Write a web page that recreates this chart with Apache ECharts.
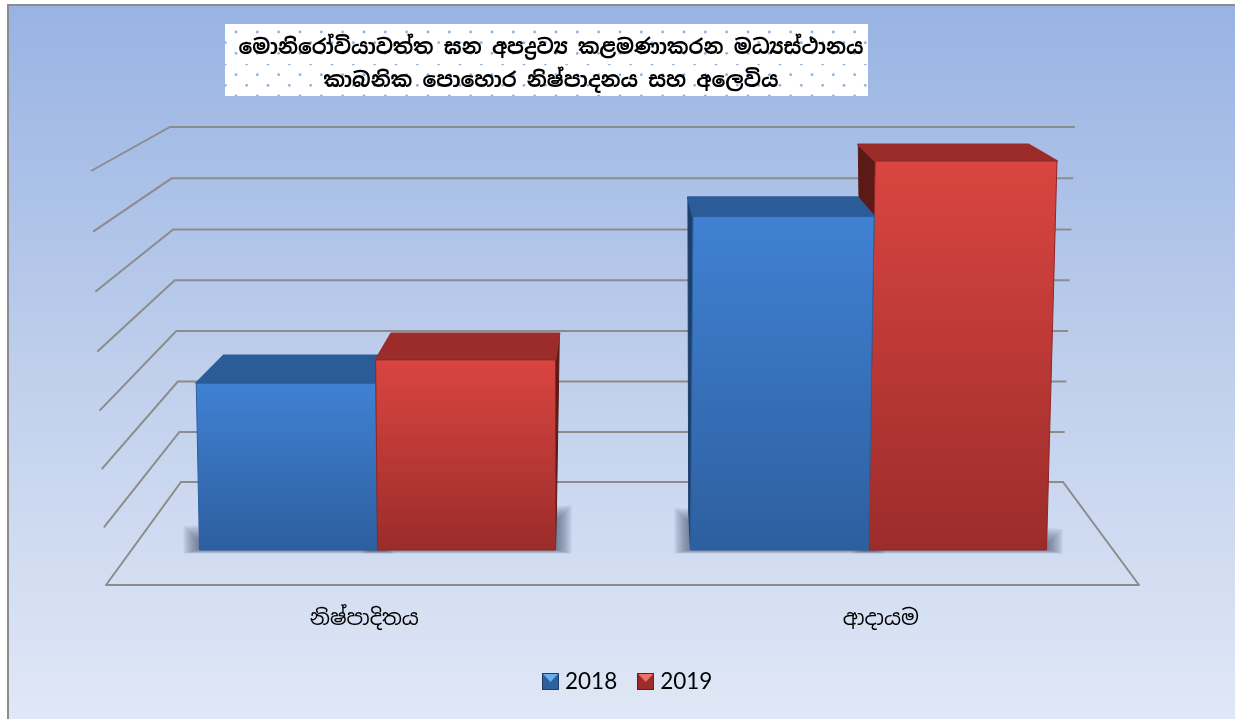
<!DOCTYPE html>
<html><head><meta charset="utf-8">
<style>html,body{margin:0;padding:0;background:#fff}#c{width:1235px;height:719px}</style>
<script src="https://cdn.jsdelivr.net/npm/echarts@6/dist/echarts.min.js"></script>
</head><body><div id="c"></div>
<script>
const titleLines = ['මොනිරෝවියාවත්ත ඝන අපද්‍රව්‍ය කළමණාකරන මධ්‍යස්ථානය', 'කාබනික පොහොර නිෂ්පාදනය සහ අලෙවිය'];
const categories = ['නිෂ්පාදිතය', 'ආදායම'];
const years = ['2018', '2019'];
const values2018 = [3.0, 6.0];
const values2019 = [3.42, 7.0];
const wallLevels = [0, 1, 2, 3, 4, 5, 6, 7];

const FONT = '"Noto Sans Sinhala","Noto Serif Sinhala","Iskoola Pota","Noto Sans","DejaVu Sans",sans-serif';
const VX = 600; // horizontal vanishing position of the 3D view
const palette = {
  '2018': {front: ['#4081d3', '#2d5f9f'], top: '#2b5c98', side: '#1d3f6b', edge: '#2c5f9f', legend: ['#2e5f9e', '#65b0f2']},
  '2019': {front: ['#da4541', '#9b2c2a'], top: '#9b2c2a', side: '#5c1a17', edge: '#8f2725', legend: ['#9b2c2a', '#f2706c']}
};

function legendIcon(c) {
  const cv = document.createElement('canvas'); cv.width = 17; cv.height = 17;
  const g = cv.getContext('2d');
  g.fillStyle = c[0]; g.fillRect(0, 0, 17, 17);
  g.fillStyle = c[1]; g.beginPath(); g.moveTo(1, 1); g.lineTo(16, 1); g.lineTo(8.5, 9); g.closePath(); g.fill();
  g.strokeStyle = 'rgba(0,0,0,.35)'; g.strokeRect(.5, .5, 16, 16);
  return 'image://' + cv.toDataURL();
}
function dotPattern() {
  const cv = document.createElement('canvas'); cv.width = 64; cv.height = 64;
  const g = cv.getContext('2d');
  g.fillStyle = '#fff'; g.fillRect(0, 0, 64, 64);
  g.fillStyle = '#8fb0e2';
  for (let i = 0; i < 3; i++) for (let j = 0; j < 3; j++) for (const [a, b] of [[44, 32], [33.3, 42.7]]) {
    g.beginPath(); g.arc((a + i * 21.33) % 64, (b + j * 21.33) % 64, 1.4, 0, 7); g.fill();
  }
  return cv;
}

function renderWall(params, api) {
  const v = api.value(0);
  const yl = api.coord([0, v])[1];
  const yf = yl + v * (7 - v) * 0.25;
  const yb = 482 - (585 - yl) * 0.8575 + v * (7 - v) * 0.1;
  const pts = [[106 - 2.14 * v, yf], [181 - 1.57 * v, yb], [1063 + 1.7 * v, yb]];
  if (v === 0) pts.push([1139, 585]);
  return {type: 'polyline', shape: {points: pts}, style: {fill: null, stroke: '#8c8c8c', lineWidth: 2}, silent: true};
}
function back(p) { return [p[0] + (615 - p[0]) * 0.065, p[1] - (p[1] + 170) * 0.05]; }
function makeRender(year, barIndex) {
  const pal = palette[year];
  return function (params, api) {
    const c = api.coord([api.value(0), 0]);
    const t = api.coord([api.value(0), api.value(1)]);
    const w = api.size([1, 0])[0] * 0.3625;
    const xl = c[0] + (barIndex - 1) * w, xr = xl + w, y0 = c[1], y1 = t[1], h = y0 - y1;
    const sh = x => (x - 556) * 5.5e-5 * h;
    const fl = [xl + sh(xl), y1], fr = [xr + sh(xr), y1], bl = [xl, y0], br = [xr, y0];
    const z = -Math.abs((xl + xr) / 2 - VX);
    const tl = back(fl), tr = back(fr);
    const children = [];
    const sTop = x => 503 + 0.058 * Math.abs(x - VX);
    for (let i = 0; i < 8; i++) {
      const e = i * 2;
      children.push({type: 'polygon', z2: -5000 + i,
        shape: {points: [[xl - 2 - e, sTop(xl) + 14 - e], [xr + 2 + e, sTop(xr) + 14 - e], [xr + 2 + e, y0 + e * 0.25], [xl - 2 - e, y0 + e * 0.25]]},
        style: {fill: 'rgba(60,70,95,.1)'}});
    }
    const sideFront = xl > VX ? [fl, bl] : [fr, br];
    const sideBack = xl > VX ? [tl, [xl + (VX - xl) * 0.02, y0 - 38]] : [tr, [xr + (VX - xr) * 0.02, y0 - 38]];
    children.push({type: 'polygon', z2: z, shape: {points: [sideFront[0], sideBack[0], sideBack[1], sideFront[1]]},
      style: {fill: pal.side, stroke: pal.side, lineWidth: 1, lineJoin: 'round'}});
    children.push({type: 'polygon', z2: z + 0.1, shape: {points: [fl, fr, tr, tl]},
      style: {fill: pal.top, stroke: pal.top, lineWidth: 2, lineJoin: 'round'}});
    children.push({type: 'polygon', z2: z + 0.2, shape: {points: [fl, fr, br, bl]},
      style: {fill: {type: 'linear', x: 0, y: 0, x2: 0, y2: 1,
        colorStops: [{offset: 0, color: pal.front[0]}, {offset: 1, color: pal.front[1]}]},
        stroke: pal.edge, lineWidth: 1}});
    return {type: 'group', children};
  };
}

const chart = echarts.init(document.getElementById('c'), null, {renderer: 'canvas'});
const hiddenY = i => ({type: 'value', gridIndex: i, min: 0, max: 7, interval: 1, show: false});
chart.setOption({
  animation: false,
  backgroundColor: '#fff',
  textStyle: {fontFamily: FONT},
  title: {
    text: titleLines.join('\n'), left: 546, top: 27, textAlign: 'center', z: 20,
    textStyle: {fontFamily: FONT, fontSize: 20.5, fontWeight: 'bold', color: '#000', lineHeight: 33}
  },
  graphic: [
    {type: 'rect', z: -10, silent: true, shape: {x: 8, y: 5, width: 1240, height: 730},
      style: {fill: new echarts.graphic.LinearGradient(0, 0, 0, 1, [
        {offset: 0, color: '#98b3e3'}, {offset: .5, color: '#bfcfec'}, {offset: 1, color: '#e2e9f7'}]), stroke: '#8c8c8c', lineWidth: 2}},
    {type: 'rect', z: 10, silent: true, shape: {x: 225, y: 24, width: 643, height: 72},
      style: {fill: {image: dotPattern(), repeat: 'repeat'}}}
  ],
  legend: {
    left: 537, top: 665, itemWidth: 17, itemHeight: 17, itemGap: 20,
    data: years.map(y => ({name: y, icon: legendIcon(palette[y].legend)})),
    textStyle: {fontFamily: 'Lato', fontSize: 22.5, color: '#000', padding: [0, 0, 0, 1]}
  },
  grid: [
    {left: 106, width: 1033, top: 171, height: 414},
    {left: 132, width: 982, top: 161, height: 389}
  ],
  xAxis: [
    {type: 'category', gridIndex: 0, data: categories, axisTick: {show: false},
      axisLine: {lineStyle: {color: '#8c8c8c', width: 2}},
      axisLabel: {fontFamily: FONT, fontSize: 21, color: '#000', margin: 24}},
    {type: 'category', gridIndex: 1, data: categories, show: false}
  ],
  yAxis: [hiddenY(0), hiddenY(1)],
  series: [
    {type: 'custom', name: 'wall', xAxisIndex: 0, yAxisIndex: 0, z: 1, silent: true, legendHoverLink: false,
      data: wallLevels.map(v => [v]), encode: {y: 0}, renderItem: renderWall, clip: false},
    {type: 'custom', name: years[0], xAxisIndex: 1, yAxisIndex: 1, z: 3, clip: false,
      data: values2018.map((v, i) => [i, v]), renderItem: makeRender(years[0], 0),
      itemStyle: {color: palette['2018'].front[0]}},
    {type: 'custom', name: years[1], xAxisIndex: 1, yAxisIndex: 1, z: 3, clip: false,
      data: values2019.map((v, i) => [i, v]), renderItem: makeRender(years[1], 1),
      itemStyle: {color: palette['2019'].front[0]}}
  ]
});
</script></body></html>
